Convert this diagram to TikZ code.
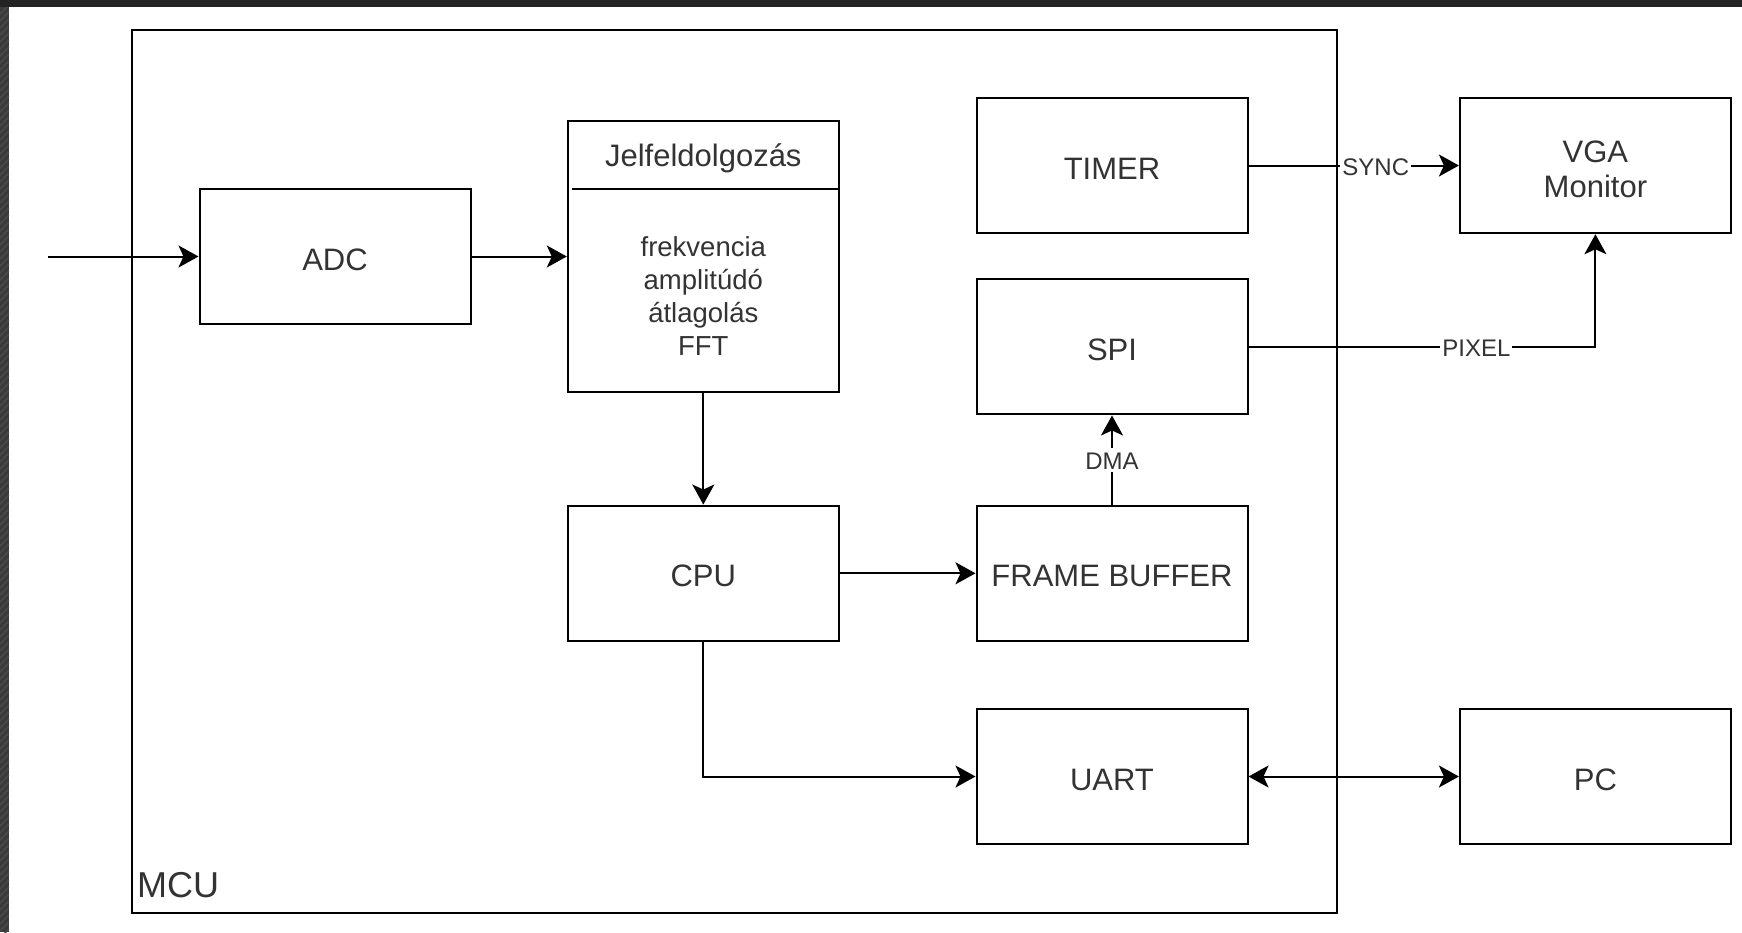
\documentclass[tikz,border=0pt]{standalone}
\usepackage{fontspec}
\setmainfont{Liberation Sans}
\usetikzlibrary{arrows.meta,calc}
\definecolor{txt}{HTML}{333333}
\definecolor{topbar}{HTML}{242424}
\definecolor{sidebar}{HTML}{3A3A3A}
\definecolor{stripe}{HTML}{4A4A4A}
\begin{document}
\begin{tikzpicture}[x=1pt,y=-1pt,
  box/.style={draw, line width=2pt, minimum width=271pt, minimum height=135.5pt, inner sep=0pt, text=txt, font=\fontsize{31}{35}\selectfont, align=center, text height=27pt, text depth=0pt},
  tip/.tip={Stealth[length=20pt,width=22pt,inset=5pt]},
  arr/.style={line width=2pt, -tip},
  biarr/.style={line width=2pt, tip-tip},
  lbl/.style={fill=white, inner sep=2pt, text=txt, font=\fontsize{24}{28}\selectfont, text height=19.5pt, text depth=0pt}]
\useasboundingbox (0,0) rectangle (1742,932);
\fill[white] (0,0) rectangle (1742,932);
% window frame
\fill[topbar] (0,0) rectangle (1742,7);
\fill[sidebar] (0,7) rectangle (9,932);
\begin{scope}
  \clip (0,7) rectangle (9,932);
  \foreach \i in {0,7,...,945} \draw[stripe, line width=1.5pt] (0,\i) -- (9,\i-9);
\end{scope}
% MCU
\node[draw, line width=2pt, minimum width=1204.5pt, minimum height=883pt, inner sep=0pt] (mcu) at (734.25,471.5) {};
\node[anchor=west, text=txt, font=\fontsize{36}{40}\selectfont, inner sep=0pt] (mculbl) at (137,885) {MCU};
% boxes
\node[box] (adc) at (335,256.5) {ADC};
\node[box, minimum height=271pt] (jelf) at (703.3,256.5) {};
\node[text=txt, font=\fontsize{31}{35}\selectfont, inner sep=0pt] (jtitle) at (703.3,158.5) {Jelfeldolgozás};
\draw[line width=2pt] (572,189) -- (jelf.east |- 0,189);
\node[text=txt, font=\fontsize{27.5}{33}\selectfont, align=center, inner sep=0pt] (jbody) at (703.3,296) {frekvencia\\amplitúdó\\átlagolás\\FFT};
\node[box] (timer) at (1112,165.5) {TIMER};
\node[box] (vga) at (1595.4,165.5) {};
\node[text=txt, font=\fontsize{31}{35}\selectfont, align=center, inner sep=0pt] (vgatext) at (1595.4,169) {VGA\\Monitor};
\node[box] (spi) at (1112,346.7) {SPI};
\node[box] (fb) at (1112,573.3) {FRAME BUFFER};
\node[box] (cpu) at (703.3,573.3) {CPU};
\node[box] (uart) at (1112,776.5) {UART};
\node[box] (pc) at (1595.4,776.5) {PC};
% connectors
\coordinate (in) at (47.8,256.5);
\draw[arr] (in) -- (adc.west);
\draw[arr] (adc.east) -- (jelf.west);
\draw[arr] (jelf.south) -- (cpu.north);
\draw[arr] (cpu.east) -- (fb.west);
\draw[arr] (fb.north) -- node[lbl] {DMA} (spi.south);
\draw[arr] (timer.east) -- node[lbl, pos=0.605] {SYNC} (vga.west);
\draw[arr] (spi.east) -- node[lbl, pos=0.657] {PIXEL} (spi.east -| vga.south) -- (vga.south);
\draw[arr] (cpu.south) |- (uart.west);
\draw[biarr] (uart.east) -- (pc.west);
\end{tikzpicture}
\end{document}
